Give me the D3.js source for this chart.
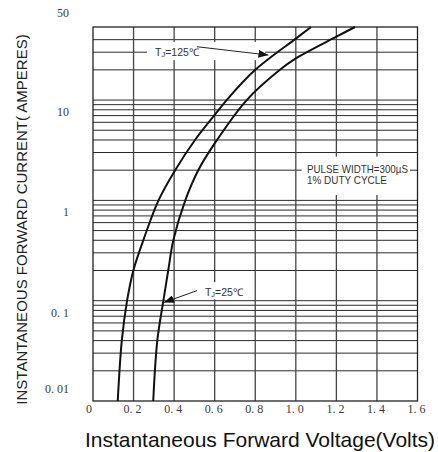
<!DOCTYPE html>
<html>
<head>
<meta charset="utf-8">
<script src="https://cdn.jsdelivr.net/npm/d3@7"></script>
<style>
  body { margin: 0; background: #fff; }
  svg { display: block; }
</style>
</head>
<body>
<div id="chart"></div>
<script>
// forward curves (volts, amperes)
const hotVolts = [0.122, 0.142, 0.168, 0.199, 0.248, 0.323, 0.405, 0.503, 0.60, 0.659, 0.80, 1.0, 1.075]
const hotAmps  = [0.01, 0.04, 0.1, 0.2, 0.4, 1, 2, 4, 7.1, 10, 20, 41, 53.5]
const coldVolts = [0.297, 0.317, 0.347, 0.371, 0.396, 0.455, 0.519, 0.60, 0.758, 0.92, 1.0, 1.2, 1.292]
const coldAmps  = [0.01, 0.04, 0.1, 0.2, 0.4, 1, 2, 3.7, 10, 19.9, 26, 42.8, 53.5]

const xTicks = [0, 0.2, 0.4, 0.6, 0.8, 1.0, 1.2, 1.4, 1.6]
const xTickLabels = ["0", "0. 2", "0. 4", "0. 6", "0. 8", "1. 0", "1. 2", "1. 4", "1. 6"]
const yTicks = [0.01, 0.1, 1, 10, 50]
const yTickLabels = ["0. 01", "0. 1", "1", "10", "50"]

const width = 438
const height = 452
const margin = ({ top: 27, right: 20.5, bottom: 51, left: 93 })

const svg = d3.select("#chart")
    .append("svg")
    .attr("width", width)
    .attr("height", height)

const x = d3.scaleLinear()
    .domain([0, 1.6])
    .range([margin.left, width - margin.right])

const y = d3.scaleLog()
    .domain([0.01, 53.5])
    .range([height - margin.bottom, margin.top])

// log grid: 1..9 in every decade, top decade stops at 40
let hLines = []
for (const dec of [0.01, 0.1, 1, 10]) {
    for (let m = 1; m <= 9; m++) {
        const v = +(dec * m).toPrecision(3)
        if (v > 0.01 && v < 50) hLines.push(v)
    }
}

svg.append("g")
    .selectAll("line")
    .data(hLines)
    .enter().append("line")
    .attr("x1", margin.left)
    .attr("x2", width - margin.right)
    .attr("y1", d => y(d))
    .attr("y2", d => y(d))
    .attr("stroke", "#2a2a2a")
    .attr("stroke-width", 1)

svg.append("g")
    .selectAll("line")
    .data(xTicks.slice(1, -1))
    .enter().append("line")
    .attr("x1", d => x(d))
    .attr("x2", d => x(d))
    .attr("y1", margin.top)
    .attr("y2", height - margin.bottom)
    .attr("stroke", "#444")
    .attr("stroke-width", 1.3)

// white patches where the notes sit on the grid
const patches = [
    { v0: 0.266, v1: 0.848, a0: 25, a1: 38 },
    { v0: 0.53, v1: 0.78, a0: 0.103, a1: 0.153 },
    { v0: 1.029, v1: 1.563, a0: 1.13, a1: 2.73 }
]
svg.append("g")
    .selectAll("rect")
    .data(patches)
    .enter().append("rect")
    .attr("x", d => x(d.v0))
    .attr("y", d => y(d.a1))
    .attr("width", d => x(d.v1) - x(d.v0))
    .attr("height", d => y(d.a0) - y(d.a1))
    .attr("fill", "#fff")

// frame
svg.append("rect")
    .attr("x", margin.left)
    .attr("y", margin.top)
    .attr("width", width - margin.right - margin.left)
    .attr("height", height - margin.bottom - margin.top)
    .attr("fill", "none")
    .attr("stroke", "#222")
    .attr("stroke-width", 1.3)

const line = d3.line()
    .x(d => x(d[0]))
    .y(d => y(d[1]))
    .curve(d3.curveCatmullRom.alpha(0.5))

const curves = [d3.zip(hotVolts, hotAmps), d3.zip(coldVolts, coldAmps)]
svg.append("g")
    .selectAll("path")
    .data(curves)
    .enter().append("path")
    .attr("d", line)
    .attr("fill", "none")
    .attr("stroke", "#111")
    .attr("stroke-width", 2)

// axes (labels only)
const xAxis = svg.append("g")
    .attr("transform", `translate(-1.5,${height - margin.bottom})`)
    .call(d3.axisBottom(x).tickValues(xTicks).tickSize(0).tickPadding(3)
        .tickFormat((d, i) => xTickLabels[i]))
xAxis.select(".domain").remove()
xAxis.selectAll("text")
    .attr("dx", d => d === 0 ? -3 : 0)

const yAxis = svg.append("g")
    .attr("transform", `translate(${margin.left},0)`)
    .call(d3.axisLeft(y).tickValues(yTicks).tickSize(0).tickPadding(24)
        .tickFormat((d, i) => yTickLabels[i]))
yAxis.select(".domain").remove()
yAxis.selectAll("text")
    .attr("dy", d => d === 50 ? -13 : (d === 0.01 ? -8.5 : 15.5))

svg.selectAll(".tick text")
    .attr("font-family", "'Liberation Serif', serif")
    .attr("font-size", 12)
    .attr("fill", "#3a3a3a")

// notes
svg.append("defs").append("marker")
    .attr("id", "head")
    .attr("viewBox", "0 0 10 8")
    .attr("refX", 10)
    .attr("refY", 4)
    .attr("markerWidth", 10)
    .attr("markerHeight", 8)
    .attr("markerUnits", "userSpaceOnUse")
    .attr("orient", "auto")
    .append("path")
    .attr("d", "M0,0L10,4L0,8Z")
    .attr("fill", "#111")

const arrows = [
    { from: [0.513, 34], to: [0.865, 28.1] },
    { from: [0.513, 0.126], to: [0.35, 0.096] }
]
svg.append("g")
    .selectAll("line")
    .data(arrows)
    .enter().append("line")
    .attr("x1", d => x(d.from[0]))
    .attr("y1", d => y(d.from[1]))
    .attr("x2", d => x(d.to[0]))
    .attr("y2", d => y(d.to[1]))
    .attr("stroke", "#222")
    .attr("stroke-width", 1)
    .attr("marker-end", "url(#head)")

const tjLabels = [
    { temp: "125", at: [0.306, 30] },
    { temp: "25", at: [0.552, 0.12] }
]
const tj = svg.append("g")
    .selectAll("text")
    .data(tjLabels)
    .enter().append("text")
    .attr("x", d => x(d.at[0]))
    .attr("y", d => y(d.at[1]))
    .attr("dy", "0.35em")
    .attr("font-family", "'Liberation Sans', Arial, sans-serif")
    .attr("font-size", 10.5)
    .attr("fill", "#333")
tj.append("tspan").text("T")
tj.append("tspan").attr("font-size", 7.5).attr("dy", 1).text("J")
tj.append("tspan").attr("dy", -1).text(d => "=" + d.temp + "℃")

const pulseLines = [
    { text: "PULSE WIDTH=300µS", at: [1.055, 1.89], len: 101 },
    { text: "1% DUTY CYCLE", at: [1.055, 1.455], len: 80 }
]
svg.append("g")
    .selectAll("text")
    .data(pulseLines)
    .enter().append("text")
    .attr("x", d => x(d.at[0]))
    .attr("y", d => y(d.at[1]))
    .attr("textLength", d => d.len)
    .attr("lengthAdjust", "spacingAndGlyphs")
    .attr("font-family", "'Liberation Sans', Arial, sans-serif")
    .attr("font-size", 10.7)
    .attr("fill", "#333")
    .text(d => d.text)

// axis titles
svg.append("text")
    .attr("transform", "translate(26.5,219.5) rotate(-90)")
    .attr("text-anchor", "middle")
    .attr("font-family", "'Liberation Sans', Arial, sans-serif")
    .attr("font-size", 15)
    .attr("fill", "#222")
    .text("INSTANTANEOUS FORWARD CURRENT( AMPERES)")

svg.append("text")
    .attr("x", 260)
    .attr("y", 446.5)
    .attr("text-anchor", "middle")
    .attr("font-family", "'Liberation Sans', Arial, sans-serif")
    .attr("font-size", 21)
    .attr("fill", "#111")
    .text("Instantaneous Forward Voltage(Volts)")
</script>
</body>
</html>
